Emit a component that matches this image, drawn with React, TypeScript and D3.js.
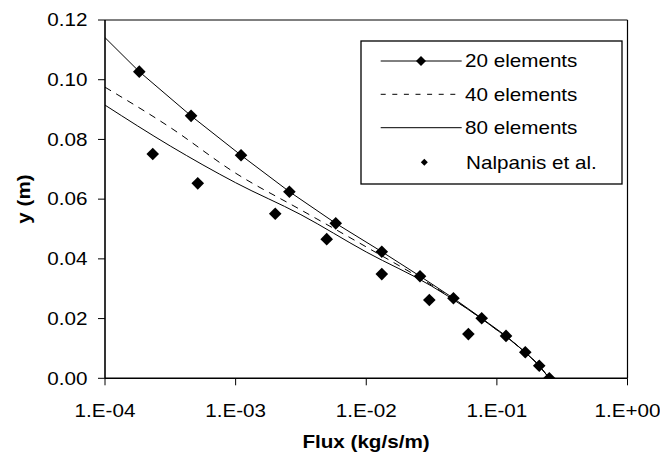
import React from "react";
import * as d3 from "d3";

const xTicks = [1e-4, 1e-3, 1e-2, 1e-1, 1];
const xTickLabels = ["1.E-04", "1.E-03", "1.E-02", "1.E-01", "1.E+00"];
const yTicks = [0, 0.02, 0.04, 0.06, 0.08, 0.1, 0.12];
const yTickLabels = ["0.00", "0.02", "0.04", "0.06", "0.08", "0.10", "0.12"];

const flux20 = [8e-5, 1.83e-4, 4.56e-4, 1.1e-3, 2.58e-3, 5.84e-3, 1.315e-2, 2.58e-2, 4.65e-2, 7.65e-2, 0.1175, 0.165, 0.211, 0.252];
const y20 = [0.1183, 0.1027, 0.0879, 0.0747, 0.0625, 0.0519, 0.0424, 0.0342, 0.0268, 0.0201, 0.0142, 0.0087, 0.0042, 0.0];

const flux40 = [1e-4, 3.16e-4, 1e-3, 3.16e-3, 1e-2, 3.16e-2, 0.1, 0.158, 0.2, 0.252];
const y40 = [0.0975, 0.084, 0.0687, 0.0564, 0.044, 0.0312, 0.0162, 0.0094, 0.0053, 0.0];

const flux80 = [1e-4, 3.16e-4, 1e-3, 3.16e-3, 1e-2, 3.16e-2, 0.1, 0.158, 0.2, 0.252];
const y80 = [0.0915, 0.0778, 0.0655, 0.0548, 0.0423, 0.0309, 0.0162, 0.0094, 0.0053, 0.0];

const fluxN = [2.32e-4, 5.13e-4, 2.01e-3, 4.98e-3, 1.315e-2, 3.04e-2, 6.05e-2];
const yN = [0.0751, 0.0653, 0.0551, 0.0466, 0.0349, 0.0262, 0.0148];

const legendLabels = ["20 elements", "40 elements", "80 elements", "Nalpanis et al."];

const W = 660, H = 453;
const L = 105, R = 627.5, T = 20, B = 378.3;
const FONT = "'Liberation Sans', Arial, sans-serif";
const FS = 17.5;
const SX = 1.18;

function diamond(cx: number, cy: number, r: number) {
  return `M${cx},${cy - r}L${cx + r},${cy}L${cx},${cy + r}L${cx - r},${cy}Z`;
}

function T_({ x, y, anchor, children, bold, rotate }: any) {
  const tr = `translate(${x},${y})${rotate ? ` rotate(${rotate})` : ""} scale(${SX},1)`;
  return (
    <g transform={tr}>
      <text x={0} y={0} textAnchor={anchor || "start"} fontFamily={FONT} fontSize={FS} fontWeight={bold ? "bold" : "normal"} fill="#000">
        {children}
      </text>
    </g>
  );
}

export default function App() {
  const x = d3.scaleLog().domain([1e-4, 1]).range([L, R]);
  const y = d3.scaleLinear().domain([0, 0.12]).range([B, T]);

  const pts = (xs: number[], ys: number[]) => xs.map((v, i) => [x(v), y(ys[i])] as [number, number]);
  const lineLin = d3.line().curve(d3.curveLinear);
  const lineSm = d3.line().curve(d3.curveMonotoneX);

  const p20 = pts(flux20, y20);
  const p40 = pts(flux40, y40);
  const p80 = pts(flux80, y80);
  const pN = pts(fluxN, yN);

  const lgX0 = 361, lgY0 = 41, lgX1 = 622, lgY1 = 184;
  const rows = [61, 94.3, 127.7, 162.3];

  return (
    <svg width={W} height={H} style={{ position: "absolute", left: 0, top: 0, background: "#fff" }}>
      <defs>
        <clipPath id="plot">
          <rect x={L} y={T} width={R - L} height={B - T} />
        </clipPath>
      </defs>
      <rect x={0} y={0} width={W} height={H} fill="#fff" />

      {/* frame */}
      <line x1={L} x2={R} y1={T} y2={T} stroke="#000" strokeWidth={1} />
      <line x1={R} x2={R} y1={T} y2={B} stroke="#000" strokeWidth={1.2} />
      <line x1={L} x2={L} y1={T} y2={B} stroke="#000" strokeWidth={1.6} />
      <line x1={L} x2={R} y1={B} y2={B} stroke="#000" strokeWidth={1.6} />

      {/* y ticks */}
      {yTicks.map((t, i) => (
        <g key={"y" + i}>
          <line x1={L - 7} x2={L} y1={y(t)} y2={y(t)} stroke="#000" strokeWidth={1} />
          <T_ x={87.5} y={y(t) + 6.2} anchor="end">{yTickLabels[i]}</T_>
        </g>
      ))}
      {/* x ticks */}
      {xTicks.map((t, i) => (
        <g key={"x" + i}>
          <line x1={x(t)} x2={x(t)} y1={B} y2={B + 7} stroke="#000" strokeWidth={1} />
          <T_ x={x(t)} y={416.5} anchor="middle">{xTickLabels[i]}</T_>
        </g>
      ))}

      <T_ x={366} y={448} anchor="middle" bold>Flux (kg/s/m)</T_>
      <T_ x={30} y={199} anchor="middle" bold rotate={-90}>y (m)</T_>

      <g clipPath="url(#plot)">
        <path d={lineLin(p20) || ""} fill="none" stroke="#000" strokeWidth={1} />
        <path d={lineSm(p40) || ""} fill="none" stroke="#000" strokeWidth={1} strokeDasharray="7,6" />
        <path d={lineSm(p80) || ""} fill="none" stroke="#000" strokeWidth={1} />
        {p20.map((p, i) => (
          <path key={"m" + i} d={diamond(p[0], p[1], 6.3)} fill="#000" />
        ))}
        {pN.map((p, i) => (
          <path key={"n" + i} d={diamond(p[0], p[1], 6.3)} fill="#000" />
        ))}
      </g>

      {/* legend */}
      <rect x={lgX0} y={lgY0} width={lgX1 - lgX0} height={lgY1 - lgY0} fill="#fff" stroke="#000" strokeWidth={1.3} />
      <line x1={380.7} x2={461.7} y1={rows[0]} y2={rows[0]} stroke="#000" strokeWidth={1} />
      <path d={diamond(421, rows[0], 5)} fill="#000" />
      <line x1={380.7} x2={461.7} y1={rows[1]} y2={rows[1]} stroke="#000" strokeWidth={1} strokeDasharray="5,6.6" />
      <line x1={380.7} x2={461.7} y1={rows[2]} y2={rows[2]} stroke="#000" strokeWidth={1} />
      <path d={diamond(424.3, rows[3], 3.5)} fill="#000" />
      {legendLabels.map((s, i) => (
        <T_ key={"l" + i} x={i === 3 ? 466 : 465} y={rows[i] + 6.2} anchor="start">{s}</T_>
      ))}
    </svg>
  );
}
